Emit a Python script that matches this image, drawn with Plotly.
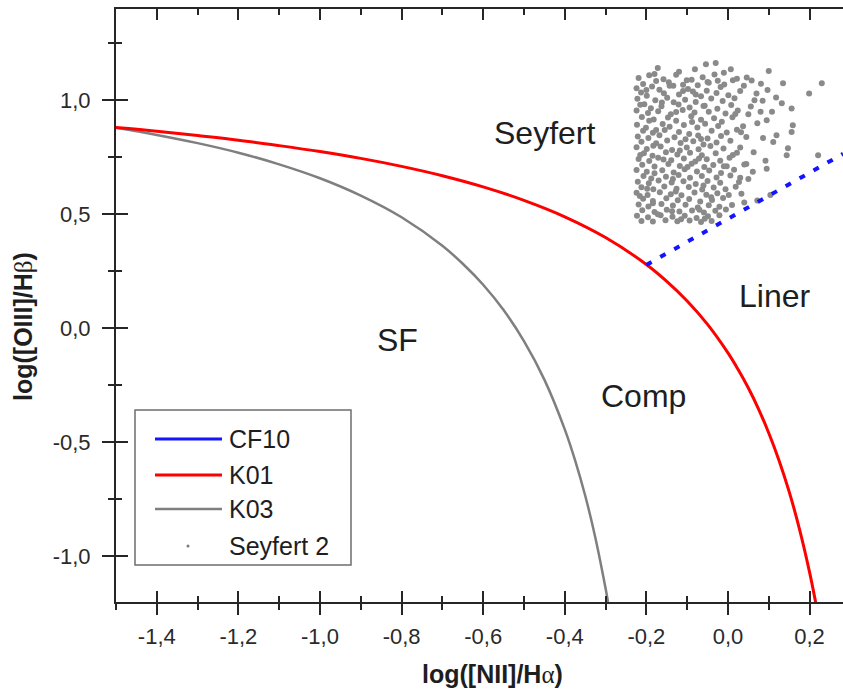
import plotly.graph_objects as go

# ---- data -------------------------------------------------------------
# Kewley et al. (2001) maximum-starburst line, sampled
k01_x = [-1.5, -1.4, -1.3, -1.2, -1.1, -1.0, -0.9, -0.8, -0.7, -0.6, -0.5, -0.4,
         -0.3, -0.2, -0.15, -0.1, -0.05, 0.0, 0.025, 0.05, 0.075, 0.1, 0.125,
         0.15, 0.175, 0.2, 0.215]
k01_y = [0.880, 0.864, 0.845, 0.825, 0.801, 0.775, 0.745, 0.710, 0.669, 0.620,
         0.561, 0.489, 0.398, 0.280, 0.206, 0.120, 0.017, -0.108, -0.181, -0.262,
         -0.354, -0.459, -0.578, -0.716, -0.878, -1.069, -1.202]

# Kauffmann et al. (2003) empirical star-forming boundary, sampled
k03_x = [-1.5, -1.4, -1.3, -1.2, -1.1, -1.0, -0.9, -0.8, -0.7, -0.65, -0.6,
         -0.55, -0.5, -0.45, -0.4, -0.375, -0.35, -0.325, -0.3, -0.294]
k03_y = [0.879, 0.848, 0.812, 0.770, 0.719, 0.658, 0.582, 0.487, 0.362, 0.283,
         0.191, 0.080, -0.056, -0.225, -0.443, -0.577, -0.733, -0.918, -1.140,
         -1.200]

# Cid Fernandes et al. (2010) Seyfert / LINER division
cf10_x = [-0.2, 0.282]
cf10_y = [0.278, 0.765]

# Seyfert 2 sample: (log [NII]/Ha, log [OIII]/Hb)
seyfert2_points = [
    (-0.172, 1.141), (-0.081, 1.136), (-0.054, 1.158), (-0.030, 1.163), (0.007, 1.136),
    (0.046, 1.100), (0.100, 1.128), (0.135, 1.074), (0.199, 1.030), (0.230, 1.074),
    (-0.120, 1.125), (-0.010, 1.120), (-0.180, 1.115), (-0.050, 1.080),
    (-0.219, 1.098), (-0.193, 1.109), (-0.158, 1.092), (-0.127, 1.112), (-0.101, 1.088),
    (-0.062, 1.101), (-0.033, 1.113), (0.022, 1.094), (0.058, 1.087),
    (-0.208, 1.071), (-0.176, 1.084), (-0.145, 1.079), (-0.110, 1.068), (-0.089, 1.090),
    (-0.047, 1.077), (-0.009, 1.069), (0.012, 1.088), (0.081, 1.072),
    (-0.224, 1.052), (-0.186, 1.060), (-0.168, 1.046), (-0.134, 1.063), (-0.098, 1.049),
    (-0.074, 1.066), (-0.052, 1.042), (-0.018, 1.058), (0.039, 1.063), (0.097, 1.045),
    (-0.213, 1.034), (-0.199, 1.020), (-0.157, 1.031), (-0.120, 1.025), (-0.086, 1.038),
    (-0.066, 1.018), (-0.028, 1.032), (0.001, 1.022), (0.030, 1.040), (0.070, 1.030),
    (0.118, 1.012),
    (-0.222, 1.006), (-0.178, 1.000), (-0.149, 1.011), (-0.133, 0.991), (-0.105, 1.002),
    (-0.079, 0.992), (-0.041, 1.008), (-0.013, 0.997), (0.016, 1.009), (0.085, 0.998),
    (0.132, 0.987),
    (-0.205, 0.982), (-0.189, 0.965), (-0.163, 0.974), (-0.121, 0.981), (-0.094, 0.968),
    (-0.057, 0.976), (-0.026, 0.963), (0.008, 0.979), (0.056, 0.973), (0.156, 0.964),
    (-0.224, 0.955), (-0.196, 0.944), (-0.171, 0.952), (-0.140, 0.939), (-0.111, 0.957),
    (-0.082, 0.946), (-0.047, 0.950), (-0.006, 0.942), (0.024, 0.955), (0.050, 0.938),
    (0.108, 0.950),
    (-0.211, 0.927), (-0.182, 0.916), (-0.147, 0.924), (-0.127, 0.910), (-0.090, 0.930),
    (-0.066, 0.914), (-0.034, 0.921), (-0.015, 0.906), (0.011, 0.925), (0.072, 0.899),
    (0.095, 0.912),
    (-0.223, 0.893), (-0.201, 0.879), (-0.160, 0.896), (-0.143, 0.884), (-0.108, 0.891),
    (-0.075, 0.880), (-0.056, 0.897), (-0.024, 0.887), (0.037, 0.886), (0.159, 0.890),
    (-0.208, 0.866), (-0.184, 0.857), (-0.155, 0.870), (-0.120, 0.861), (-0.095, 0.852),
    (-0.040, 0.866), (-0.003, 0.858), (0.022, 0.871), (0.156, 0.861),
    (-0.221, 0.841), (-0.195, 0.834), (-0.168, 0.846), (-0.131, 0.838), (-0.104, 0.829),
    (-0.073, 0.845), (-0.050, 0.832), (-0.017, 0.843), (0.045, 0.839), (0.086, 0.834),
    (0.119, 0.847),
    (-0.212, 0.818), (-0.176, 0.811), (-0.149, 0.823), (-0.116, 0.813), (-0.085, 0.820),
    (-0.060, 0.806), (-0.028, 0.815), (0.006, 0.822), (0.111, 0.817),
    (-0.224, 0.794), (-0.199, 0.786), (-0.165, 0.797), (-0.137, 0.782), (-0.101, 0.793),
    (-0.072, 0.785), (-0.043, 0.799), (-0.011, 0.788), (0.030, 0.793), (0.147, 0.790),
    (-0.206, 0.768), (-0.185, 0.757), (-0.152, 0.772), (-0.124, 0.762), (-0.093, 0.770),
    (-0.064, 0.759), (-0.030, 0.767), (0.012, 0.760), (0.063, 0.772), (0.144, 0.759),
    (0.221, 0.759),
    (-0.219, 0.742), (-0.193, 0.734), (-0.171, 0.748), (-0.139, 0.737), (-0.108, 0.745),
    (-0.080, 0.731), (-0.052, 0.741), (-0.019, 0.735), (0.004, 0.748), (0.092, 0.735),
    (-0.210, 0.717), (-0.180, 0.709), (-0.146, 0.720), (-0.118, 0.712), (-0.089, 0.722),
    (-0.058, 0.707), (-0.036, 0.716), (-0.003, 0.711), (0.040, 0.718),
    (-0.224, 0.694), (-0.199, 0.686), (-0.161, 0.693), (-0.133, 0.683), (-0.106, 0.697),
    (-0.076, 0.688), (-0.046, 0.692), (-0.017, 0.681), (0.015, 0.695), (0.061, 0.686),
    (0.095, 0.700),
    (-0.207, 0.668), (-0.188, 0.657), (-0.152, 0.665), (-0.121, 0.672), (-0.093, 0.660),
    (-0.064, 0.668), (-0.028, 0.661), (0.006, 0.670), (0.050, 0.655),
    (-0.221, 0.643), (-0.194, 0.636), (-0.170, 0.648), (-0.138, 0.639), (-0.109, 0.645),
    (-0.079, 0.633), (-0.050, 0.646), (-0.019, 0.638), (0.027, 0.642),
    (-0.212, 0.619), (-0.183, 0.610), (-0.156, 0.622), (-0.126, 0.612), (-0.096, 0.620),
    (-0.063, 0.609), (-0.035, 0.617), (-0.006, 0.610), (0.019, 0.621),
    (-0.224, 0.594), (-0.197, 0.585), (-0.167, 0.596), (-0.140, 0.588), (-0.114, 0.583),
    (-0.082, 0.595), (-0.053, 0.586), (-0.026, 0.592), (0.002, 0.584), (0.033, 0.590),
    (-0.208, 0.568), (-0.184, 0.558), (-0.151, 0.570), (-0.123, 0.561), (-0.095, 0.567),
    (-0.068, 0.556), (-0.039, 0.563), (-0.012, 0.571), (0.040, 0.552), (0.072, 0.560),
    (0.104, 0.585),
    (-0.219, 0.543), (-0.195, 0.534), (-0.163, 0.545), (-0.135, 0.538), (-0.104, 0.542),
    (-0.074, 0.530), (-0.047, 0.540), (-0.021, 0.533), (0.010, 0.541),
    (-0.210, 0.518), (-0.180, 0.510), (-0.150, 0.520), (-0.119, 0.512), (-0.088, 0.517),
    (-0.059, 0.508), (-0.031, 0.515), (-0.005, 0.521),
    (-0.223, 0.494), (-0.196, 0.487), (-0.165, 0.496), (-0.136, 0.489), (-0.106, 0.493),
    (-0.077, 0.484), (-0.049, 0.491), (-0.021, 0.496),
    (-0.212, 0.471), (-0.184, 0.468), (-0.153, 0.474), (-0.124, 0.469), (-0.094, 0.473),
    (-0.066, 0.466), (-0.040, 0.470),
    (-0.200, 1.045), (-0.143, 1.064), (-0.079, 1.025), (-0.162, 0.990), (-0.060, 0.975),
    (-0.193, 0.910), (-0.127, 0.948), (-0.088, 0.905), (-0.176, 0.870), (-0.066, 0.830),
    (-0.183, 0.800), (-0.118, 0.780), (-0.071, 0.745), (-0.158, 0.740), (-0.099, 0.707),
    (-0.010, 0.710), (-0.180, 0.680), (-0.135, 0.655), (-0.060, 0.626), (-0.198, 0.612),
    (-0.128, 0.600), (-0.041, 0.575), (-0.184, 0.548), (-0.137, 0.513), (-0.070, 0.520),
    (-0.172, 0.500), (-0.115, 0.478), (-0.057, 0.480), (0.018, 0.940), (0.032, 0.860),
    (0.022, 0.770), (0.045, 0.720), (0.030, 0.660), (0.065, 1.000), (0.080, 0.950),
    (-0.215, 0.980), (-0.215, 0.760), (-0.216, 0.580), (-0.110, 1.040), (-0.025, 1.085),
]

x_tick_vals = [-1.4, -1.2, -1.0, -0.8, -0.6, -0.4, -0.2, 0.0, 0.2]
x_tick_text = ["-1,4", "-1,2", "-1,0", "-0,8", "-0,6", "-0,4", "-0,2", "0,0", "0,2"]
y_tick_vals = [-1.0, -0.5, 0.0, 0.5, 1.0]
y_tick_text = ["-1,0", "-0,5", "0,0", "0,5", "1,0"]

region_names = ["Seyfert", "SF", "Comp", "Liner"]
region_x = [-0.449, -0.809, -0.208, 0.115]
region_y = [0.855, -0.051, -0.297, 0.141]

legend_names = ["CF10", "K01", "K03", "Seyfert 2"]

# ---- styling ----------------------------------------------------------
W, H = 843, 694
ML, MR, MT, MB = 116, 0, 9, 92
PW, PH = W - ML - MR, H - MT - MB
FONT = "Liberation Sans, Arial, sans-serif"
INK = "#1e1e1e"
AXIS = "#262626"
C_BLUE, C_RED, C_GRAY = "#1414ff", "#ff0000", "#7f7f7f"
X_RANGE = [-1.5, 0.282]
Y_RANGE = [-1.2, 1.4]


def pxx(px):
    return (px - ML) / PW


def pxy(py):
    return (H - MB - py) / PH


fig = go.Figure()

sx = [p[0] for p in seyfert2_points]
sy = [p[1] for p in seyfert2_points]
fig.add_trace(go.Scatter(x=sx, y=sy, mode="markers", name="Seyfert 2",
                         marker=dict(color="#8a8a8a", size=6, line=dict(width=0)),
                         showlegend=False))
fig.add_trace(go.Scatter(x=k03_x, y=k03_y, mode="lines", name="K03",
                         line=dict(color=C_GRAY, width=2.5, shape="spline"),
                         showlegend=False))
fig.add_trace(go.Scatter(x=k01_x, y=k01_y, mode="lines", name="K01",
                         line=dict(color=C_RED, width=3, shape="spline"),
                         showlegend=False))
fig.add_trace(go.Scatter(x=cf10_x, y=cf10_y, mode="lines", name="CF10",
                         line=dict(color=C_BLUE, width=4, dash="6px,10px"),
                         showlegend=False))
# carrier for the overlaid tick axes
fig.add_trace(go.Scatter(x=[None], y=[None], xaxis="x2", yaxis="y2",
                         showlegend=False, hoverinfo="skip"))

tickfont = dict(family=FONT, size=22, color="#2a2a2a")

fig.update_layout(
    width=W, height=H,
    margin=dict(l=ML, r=MR, t=MT, b=MB),
    paper_bgcolor="white", plot_bgcolor="white",
    showlegend=False,
    xaxis=dict(range=X_RANGE, showgrid=False, zeroline=False,
               showline=True, linecolor=AXIS, linewidth=2,
               tickmode="array", tickvals=x_tick_vals, ticktext=x_tick_text,
               ticks="outside", ticklen=11, tickwidth=2, tickcolor=AXIS,
               tickfont=tickfont, ticklabelstandoff=3,
               minor=dict(ticks="outside", ticklen=6, tickwidth=2, tickcolor=AXIS,
                          tickmode="linear", tick0=-1.5, dtick=0.2, showgrid=False)),
    xaxis2=dict(range=X_RANGE, overlaying="x", side="bottom", anchor="y2",
                showgrid=False, zeroline=False, showticklabels=False,
                showline=True, linecolor=AXIS, linewidth=2, mirror="ticks",
                tickmode="array", tickvals=x_tick_vals,
                ticks="inside", ticklen=11, tickwidth=2, tickcolor=AXIS,
                minor=dict(ticks="inside", ticklen=6, tickwidth=2, tickcolor=AXIS,
                           tickmode="linear", tick0=-1.5, dtick=0.2, showgrid=False)),
    yaxis=dict(range=Y_RANGE, showgrid=False, zeroline=False,
               showline=True, linecolor=AXIS, linewidth=2,
               tickmode="array", tickvals=y_tick_vals, ticktext=y_tick_text,
               ticks="outside", ticklen=12, tickwidth=2, tickcolor=AXIS,
               tickfont=tickfont, ticklabelstandoff=7,
               minor=dict(ticks="outside", ticklen=6, tickwidth=2, tickcolor=AXIS,
                          tickmode="linear", tick0=-0.75, dtick=0.5, showgrid=False)),
    yaxis2=dict(range=Y_RANGE, overlaying="y", side="left", anchor="x2",
                showgrid=False, zeroline=False, showticklabels=False,
                showline=False,
                tickmode="array", tickvals=y_tick_vals,
                ticks="inside", ticklen=12, tickwidth=2, tickcolor=AXIS,
                minor=dict(ticks="inside", ticklen=6, tickwidth=2, tickcolor=AXIS,
                           tickmode="linear", tick0=-0.75, dtick=0.5, showgrid=False)),
)

# axis titles
fig.add_annotation(xref="paper", yref="paper", x=pxx(492), y=pxy(674),
                   xanchor="center", yanchor="middle", showarrow=False,
                   text="<b>log([NII]/H</b><span style='font-family:Liberation Serif'>α</span><b>)</b>",
                   font=dict(family=FONT, size=25, color=INK))
fig.add_annotation(xref="paper", yref="paper", x=pxx(23), y=pxy(327),
                   xanchor="center", yanchor="middle", showarrow=False, textangle=-90,
                   text="<b>log([OIII]/H</b><span style='font-family:Liberation Serif'>β</span><b>)</b>",
                   font=dict(family=FONT, size=25, color=INK))

# region labels
for name, rx, ry in zip(region_names, region_x, region_y):
    fig.add_annotation(x=rx, y=ry, xref="x", yref="y", text=name, showarrow=False,
                       xanchor="center", yanchor="middle",
                       font=dict(family=FONT, size=32, color=INK))

# legend box
fig.add_shape(type="rect", xref="paper", yref="paper",
              x0=pxx(135), x1=pxx(351), y0=pxy(565), y1=pxy(410),
              line=dict(color="#6e6e6e", width=1.5), fillcolor="white", layer="above")
legend_rows = [439, 475, 509, 546]
legend_styles = [(C_BLUE, 3), (C_RED, 3), (C_GRAY, 2.5)]
for (col, wd), ry in zip(legend_styles, legend_rows[:3]):
    fig.add_shape(type="line", xref="paper", yref="paper",
                  x0=pxx(155), x1=pxx(222), y0=pxy(ry), y1=pxy(ry),
                  line=dict(color=col, width=wd), layer="above")
fig.add_shape(type="circle", xref="paper", yref="paper",
              x0=pxx(186.5), x1=pxx(189.5), y0=pxy(547.5), y1=pxy(544.5),
              line=dict(width=0), fillcolor="#7a7a7a", layer="above")
for name, ry in zip(legend_names, legend_rows):
    fig.add_annotation(xref="paper", yref="paper", x=pxx(227), y=pxy(ry),
                       xanchor="left", yanchor="middle", showarrow=False, text=name,
                       font=dict(family=FONT, size=25, color=INK))

fig.write_html("out.html")
